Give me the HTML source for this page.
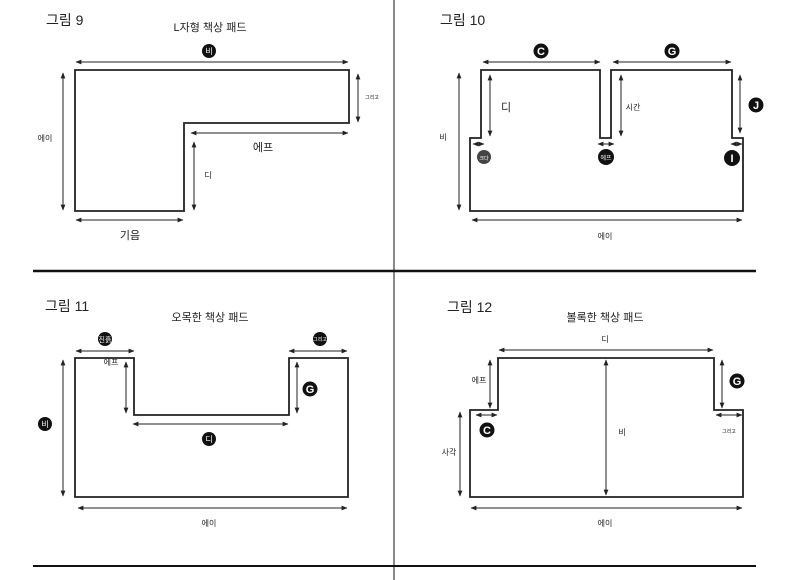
<!DOCTYPE html>
<html><head><meta charset="utf-8"><style>
html,body{margin:0;padding:0;background:#fff;}
svg{display:block;}
text{font-family:"Liberation Sans","Noto Sans CJK KR",sans-serif;fill:#222;}
</style></head><body>
<svg width="790" height="580" viewBox="0 0 790 580" xmlns="http://www.w3.org/2000/svg">
<defs>
<marker id="a" viewBox="0 0 10 10" refX="9" refY="5" markerWidth="6" markerHeight="6" orient="auto-start-reverse"><path d="M0,1 L10,5 L0,9 z" fill="#222"/></marker>
</defs>
<g stroke="#111">
<line x1="33" y1="271" x2="756" y2="271" stroke-width="2.5"/>
<line x1="33" y1="566" x2="756" y2="566" stroke-width="2"/>
<line x1="394" y1="0" x2="394" y2="580" stroke-width="1"/>
</g>
<g fill="none" stroke="#222" stroke-width="1.8">
<path d="M75,70 H349 V123 H184 V211 H75 Z"/>
<path d="M470,211 V138 H481 V70 H600 V138 H611 V70 H732 V138 H743 V211 Z"/>
<path d="M75,358 H134 V415 H289 V358 H348 V497 H75 Z"/>
<path d="M470,497 V410 H498 V358 H714 V410 H743 V497 Z"/>
</g>
<g stroke="#222" stroke-width="1" marker-start="url(#a)" marker-end="url(#a)">
<line x1="76" y1="62" x2="348" y2="62"/>
<line x1="63" y1="73" x2="63" y2="210"/>
<line x1="358" y1="74" x2="358" y2="122"/>
<line x1="191" y1="133" x2="348" y2="133"/>
<line x1="194" y1="142" x2="194" y2="210"/>
<line x1="76" y1="220" x2="183" y2="220"/>

<line x1="483" y1="62" x2="600" y2="62"/>
<line x1="613" y1="62" x2="731" y2="62"/>
<line x1="459" y1="73" x2="459" y2="210"/>
<line x1="490" y1="75" x2="490" y2="136"/>
<line x1="621" y1="75" x2="621" y2="136"/>
<line x1="740" y1="75" x2="740" y2="133"/>
<line x1="473" y1="144" x2="484" y2="144"/>
<line x1="598" y1="144" x2="614" y2="144"/>
<line x1="731" y1="144" x2="742" y2="144"/>
<line x1="472" y1="220" x2="742" y2="220"/>

<line x1="76" y1="351" x2="134" y2="351"/>
<line x1="289" y1="351" x2="347" y2="351"/>
<line x1="63" y1="360" x2="63" y2="496"/>
<line x1="126" y1="362" x2="126" y2="413"/>
<line x1="133" y1="424" x2="288" y2="424"/>
<line x1="297" y1="362" x2="297" y2="413"/>
<line x1="78" y1="508" x2="347" y2="508"/>

<line x1="499" y1="350" x2="713" y2="350"/>
<line x1="490" y1="360" x2="490" y2="408"/>
<line x1="722" y1="360" x2="722" y2="408"/>
<line x1="476" y1="415" x2="497" y2="415"/>
<line x1="716" y1="415" x2="742" y2="415"/>
<line x1="460" y1="412" x2="460" y2="496"/>
<line x1="606" y1="360" x2="606" y2="495"/>
<line x1="471" y1="508" x2="742" y2="508"/>
</g>
<g fill="#111">
<circle cx="209" cy="51" r="7"/>
<circle cx="541" cy="51" r="7.5"/><circle cx="672" cy="51" r="7.5"/>
<circle cx="756" cy="105" r="7.5"/>
<circle cx="484" cy="157" r="7" fill="#444"/><circle cx="606" cy="157" r="8"/><circle cx="732" cy="158" r="8"/>
<circle cx="105" cy="339" r="7"/><circle cx="320" cy="339" r="7"/>
<circle cx="310" cy="389" r="7.5"/><circle cx="209" cy="439" r="7"/><circle cx="45" cy="424" r="7"/>
<circle cx="737" cy="381" r="7.5"/><circle cx="487" cy="430" r="7.5"/>
</g>
<g font-size="8" text-anchor="middle">
<text x="209" y="54" style="fill:#fff">비</text>
<text x="606" y="160" style="fill:#fff;font-size:6">에프</text>
<text x="484" y="160" style="fill:#fff;font-size:5">크다</text>
<text x="105" y="342" style="fill:#fff;font-size:7">진흙</text>
<text x="320" y="341" style="fill:#fff;font-size:5">그리고</text>
<text x="209" y="442" style="fill:#fff">디</text>
<text x="45" y="427" style="fill:#fff">비</text>
</g>
<g font-size="11" font-weight="bold" text-anchor="middle" style="fill:#fff">
<text x="541" y="55" style="fill:#fff">C</text><text x="672" y="55" style="fill:#fff">G</text>
<text x="756" y="109" style="fill:#fff">J</text><text x="732" y="162" style="fill:#fff">I</text>
<text x="310" y="393" style="fill:#fff">G</text><text x="737" y="385" style="fill:#fff">G</text>
<text x="487" y="434" style="fill:#fff">C</text>
</g>
<g font-size="14">
<text x="46" y="25">그림 9</text>
<text x="440" y="25">그림 10</text>
<text x="45" y="311">그림 11</text>
<text x="447" y="312">그림 12</text>
</g>
<g font-size="11" text-anchor="middle">
<text x="210" y="31">L자형 책상 패드</text>
<text x="210" y="321">오목한 책상 패드</text>
<text x="605" y="321">볼록한 책상 패드</text>
<text x="263" y="151">에프</text>
<text x="130" y="239">기음</text>
<text x="506" y="111">디</text>
</g>
<g font-size="8" text-anchor="middle">
<text x="45" y="141">에이</text>
<text x="208" y="178">디</text>
<text x="372" y="99" style="font-size:5">그리고</text>
<text x="443" y="140">비</text>
<text x="633" y="110">시간</text>
<text x="605" y="239">에이</text>
<text x="111" y="365">에프</text>
<text x="209" y="526">에이</text>
<text x="605" y="342">디</text>
<text x="479" y="383">에프</text>
<text x="449" y="455">사각</text>
<text x="622" y="435">비</text>
<text x="729" y="433" style="font-size:5">그리고</text>
<text x="605" y="526">에이</text>
</g>
</svg>
</body></html>
